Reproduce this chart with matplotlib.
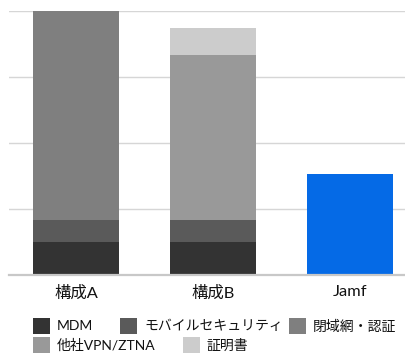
import matplotlib.pyplot as plt
from matplotlib.patches import Rectangle
import numpy as np

plt.rcParams['font.family'] = ['Lato', 'Noto Sans CJK JP', 'DejaVu Sans']

# monthly cost per device
configs = ['構成A', '構成B', 'Jamf']
series_names = ['MDM', 'モバイルセキュリティ', '閉域網・認証', '他社VPN/ZTNA', '証明書']
series_colors = ['#333333', '#5a5a5a', '#7f7f7f', '#999999', '#cccccc']
mdm = [300, 300, 0]
mobile_sec = [200, 200, 0]
closed_net = [1900, 0, 0]
other_vpn = [0, 1500, 0]
certs = [0, 250, 0]
jamf = [0, 0, 920]
yticks = [0, 600, 1200, 1800, 2400]

W, H = 406, 355
fig = plt.figure(figsize=(W / 100, H / 100), dpi=100)
ax = fig.add_axes([9 / W, 1 - 275 / H, 1 - 9 / W, 264 / H])

x = np.arange(len(configs))
w = 0.629
bottom = np.zeros(len(configs))
for vals, col in zip([mdm, mobile_sec, closed_net, other_vpn, certs], series_colors):
    ax.bar(x, vals, w, bottom=bottom, color=col, linewidth=0, zorder=2)
    bottom += np.array(vals)
ax.bar(x, jamf, w, color='#056ae6', linewidth=0, zorder=2)

ax.set_ylim(0, 2400)
ax.set_xlim(-0.49, 2.413)
ax.set_yticks(yticks)
ax.yaxis.grid(True, color='#d6d6d6', linewidth=1.0, zorder=0)
ax.tick_params(axis='y', left=False, labelleft=False)
ax.tick_params(axis='x', bottom=False, pad=4)
ax.set_xticks(x)
ax.set_xticklabels(configs, fontsize=11.8, color='#111111')
for s in ['top', 'right', 'left']:
    ax.spines[s].set_visible(False)
ax.spines['bottom'].set_color('#c8c8c8')
ax.spines['bottom'].set_linewidth(1.6)
ax.spines['bottom'].set_zorder(3)

# legend: two flowing rows, placed by hand (pixel positions)
legend_pos = [(33, 326), (120, 326), (289, 326), (33, 345), (183, 345)]
sq_w, sq_h = 17, 16
for (px, py), name, col in zip(legend_pos, series_names, series_colors):
    fig.patches.append(Rectangle((px / W, (H - py - sq_h / 2) / H), sq_w / W, sq_h / H,
                                 transform=fig.transFigure, facecolor=col,
                                 edgecolor='none'))
    fig.text((px + sq_w + 7) / W, (H - py) / H, name, fontsize=10,
             color='#111111', va='center', ha='left')

fig.savefig('out.png', dpi=100)
